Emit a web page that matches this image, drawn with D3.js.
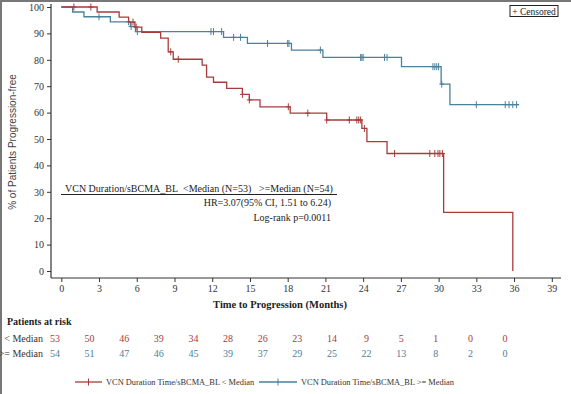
<!DOCTYPE html>
<html>
<head>
<meta charset="utf-8">
<script src="https://cdn.jsdelivr.net/npm/d3@7"></script>
<style>
  body { margin: 0; background: white; }
  text { font-family: "Liberation Serif", "DejaVu Serif", serif; }
</style>
</head>
<body>
<div id="chart"></div>
<script>
let W = 571, H = 394

// step curves: [month, % progression-free]
let lowSteps = [[0, 100], [2.85, 98.1], [4.6, 96.2], [5.35, 94.3], [5.85, 92.4], [6.4, 90.4],
  [7.9, 88.2], [8.5, 83.0], [8.9, 80.2], [11.2, 78.0], [11.55, 73.4], [12.1, 71.5], [13.15, 69.2],
  [14.4, 66.9], [14.95, 64.8], [15.8, 62.2], [18.2, 59.8], [21.1, 57.2], [23.9, 54.0],
  [24.3, 49.0], [25.9, 44.5], [30.4, 22.2], [35.9, 0]]
let lowEnd = 35.9
let lowCensor = [1.0, 2.35, 5.7, 5.95, 8.7, 9.3, 14.4, 14.95, 18.05, 19.6, 21.1, 22.9, 23.5,
  23.65, 23.8, 24.1, 26.5, 29.3, 29.7, 29.95, 30.1, 30.3]

let highSteps = [[0, 100], [0.9, 98.1], [1.8, 96.3], [3.9, 94.4], [5.5, 92.6], [5.9, 90.7],
  [12.9, 88.5], [14.8, 86.2], [18.3, 83.7], [20.8, 80.9], [27.05, 77.4], [30.2, 70.8], [30.9, 63.0]]
let highEnd = 36.4
let highCensor = [3.0, 5.35, 5.55, 6.05, 11.9, 12.1, 12.75, 13.7, 14.25, 16.4, 18.0, 18.1, 20.6,
  23.8, 23.9, 24.0, 25.7, 25.9, 29.55, 29.7, 29.85, 30.0, 30.25, 33.0, 35.3, 35.6, 35.9, 36.2]

let xTicks = d3.range(0, 40, 3)
let yTicks = d3.range(0, 101, 10)
let riskLow = [53, 50, 46, 39, 34, 28, 26, 23, 14, 9, 5, 1, 0, 0]
let riskHigh = [54, 51, 47, 46, 45, 39, 37, 29, 25, 22, 13, 8, 2, 0]

let redC = "#a83c3c", blueC = "#4a819c", axisC = "#333"

let svg = d3.select("#chart").append("svg")
  .attr("width", W).attr("height", H)

// frame of the picture
svg.append("line").attr("x1", 0).attr("x2", W).attr("y1", 1).attr("y2", 1)
  .attr("stroke", "#777").attr("stroke-width", 2)
svg.append("line").attr("x1", 1).attr("x2", 1).attr("y1", 0).attr("y2", H)
  .attr("stroke", "#777").attr("stroke-width", 2)

let x = d3.scaleLinear().domain([0, 39]).range([61.3, 551.8])
let y = d3.scaleLinear().domain([0, 100]).range([271, 7])

// axes
let yAxis = svg.append("g").attr("transform", "translate(51,0)")
  .call(d3.axisLeft(y).tickValues(yTicks).tickSize(4).tickPadding(3))
yAxis.select(".domain").attr("d", "M0,4V278").attr("stroke", axisC).attr("stroke-width", 1.2)
let xAxis = svg.append("g").attr("transform", "translate(0,278)")
  .call(d3.axisBottom(x).tickValues(xTicks).tickSize(4).tickPadding(3))
xAxis.select(".domain").attr("d", "M51,0H561").attr("stroke", axisC).attr("stroke-width", 1.2)
svg.selectAll(".tick line").attr("stroke", axisC)
svg.selectAll(".tick text").attr("fill", axisC)
  .style("font-family", "Liberation Serif").style("font-size", "10px")

svg.append("text")
  .attr("transform", "translate(16,142) rotate(-90)")
  .attr("text-anchor", "middle")
  .style("font-family", "Liberation Sans").style("font-size", "10px").attr("fill", "#444")
  .text("% of Patients Progression-free")

svg.append("text").attr("x", 280).attr("y", 308).attr("text-anchor", "middle")
  .style("font-size", "10.5px").style("font-weight", "bold").attr("fill", "#222")
  .text("Time to Progression (Months)")

// step path
function stepLine(steps, end) {
  let pts = steps.slice()
  pts.push([end, steps[steps.length - 1][1]])
  return d3.line().x(d => x(d[0])).y(d => y(d[1])).curve(d3.curveStepAfter)(pts)
}
function survAt(steps, t) {
  let v = steps[0][1]
  steps.forEach(s => { if (s[0] <= t) v = s[1] })
  return v
}

let groups = [
  { steps: highSteps, end: highEnd, censor: highCensor, color: blueC },
  { steps: lowSteps, end: lowEnd, censor: lowCensor, color: redC }
]
groups.forEach(g => {
  svg.append("path").attr("d", stepLine(g.steps, g.end))
    .attr("fill", "none").attr("stroke", g.color).attr("stroke-width", 1.3)
  svg.append("g").selectAll("path").data(g.censor).join("path")
    .attr("d", t => {
      let cx = x(t), cy = y(survAt(g.steps, t))
      return `M${cx},${cy - 3.5}V${cy + 3.5}M${cx - 2.5},${cy}H${cx + 2.5}`
    })
    .attr("stroke", g.color).attr("stroke-width", 1)
})

// censored legend box
svg.append("rect").attr("x", 510).attr("y", 5.5).attr("width", 48).attr("height", 11)
  .attr("fill", "white").attr("stroke", "#222").attr("stroke-width", 1)
svg.append("text").attr("x", 534).attr("y", 14.5).attr("text-anchor", "middle")
  .style("font-size", "9.5px").attr("fill", "#222").text("+ Censored")

// inset table
let inset = svg.append("g").style("font-size", "10px").attr("fill", "#222")
inset.append("text").attr("x", 65).attr("y", 192).text("VCN Duration/sBCMA_BL")
inset.append("text").attr("x", 183).attr("y", 192).text("<Median (N=53)")
inset.append("text").attr("x", 259).attr("y", 192).text(">=Median (N=54)")
svg.append("line").attr("x1", 61).attr("x2", 337).attr("y1", 194.5).attr("y2", 194.5)
  .attr("stroke", "#222").attr("stroke-width", 1)
inset.append("text").attr("x", 331).attr("y", 206).attr("text-anchor", "end")
  .text("HR=3.07(95% CI, 1.51 to 6.24)")
inset.append("text").attr("x", 331).attr("y", 220.5).attr("text-anchor", "end")
  .text("Log-rank p=0.0011")

// patients at risk
let xr = d3.scaleLinear().domain([0, 39]).range([55, 505])
svg.append("text").attr("x", 7).attr("y", 324.5)
  .style("font-size", "10px").style("font-weight", "bold").attr("fill", "#222")
  .text("Patients at risk")
let rows = [
  { label: "< Median", vals: riskLow, color: redC, yy: 342 },
  { label: ">= Median", vals: riskHigh, color: blueC, yy: 357 }
]
rows.forEach(r => {
  svg.append("text").attr("x", 43).attr("y", r.yy).attr("text-anchor", "end")
    .style("font-size", "10px").attr("fill", "#333").text(r.label)
  svg.append("g").selectAll("text").data(r.vals).join("text")
    .attr("x", (d, i) => xr(xTicks[i])).attr("y", r.yy).attr("text-anchor", "middle")
    .style("font-size", "10px").attr("fill", r.color).text(d => d)
})

// bottom legend
let legend = [
  { x0: 75, len: 27, label: "VCN Duration Time/sBCMA_BL < Median", color: redC },
  { x0: 259, len: 38, label: "VCN Duration Time/sBCMA_BL >= Median", color: blueC }
]
legend.forEach(l => {
  let ly = 382
  svg.append("line").attr("x1", l.x0).attr("x2", l.x0 + l.len).attr("y1", ly).attr("y2", ly)
    .attr("stroke", l.color).attr("stroke-width", 1.3)
  svg.append("path").attr("d", `M${l.x0 + l.len / 2},${ly - 3.5}V${ly + 3.5}`)
    .attr("stroke", l.color).attr("stroke-width", 1)
  svg.append("text").attr("x", l.x0 + l.len + 4).attr("y", ly + 3)
    .style("font-size", "8.4px").attr("fill", "#333").text(l.label)
})
</script>
</body>
</html>
